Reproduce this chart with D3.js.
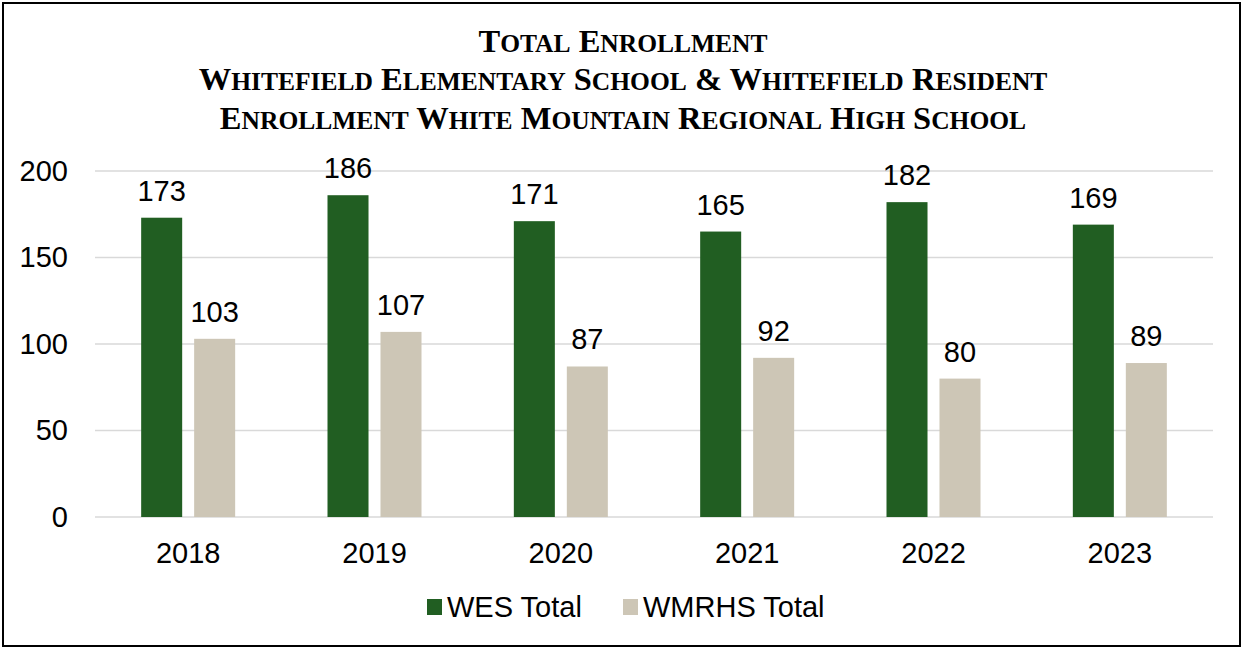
<!DOCTYPE html>
<html lang="en">
<head>
<meta charset="UTF-8">
<title>Total Enrollment</title>
<script src="https://d3js.org/d3.v7.min.js"></script>
<style>
  body { margin: 0; background: #fff; }
  svg { display: block; }
</style>
</head>
<body>
<div id="chart"></div>
<script>
// chart values
const years = ["2018", "2019", "2020", "2021", "2022", "2023"];
const wesTotal = [173, 186, 171, 165, 182, 169];
const wmrhsTotal = [103, 107, 87, 92, 80, 89];
const seriesNames = ["WES Total", "WMRHS Total"];
const yTicks = [0, 50, 100, 150, 200];
const titleLines = [
  "Total Enrollment",
  "Whitefield Elementary School & Whitefield Resident",
  "Enrollment White Mountain Regional High School"
];

const width = 1244, height = 650;
const colors = ["#215e22", "#cdc6b6"];
const sans = "'Liberation Sans', Arial, sans-serif";
const fontSize = 29;

const svg = d3.select("#chart").append("svg")
  .attr("width", width)
  .attr("height", height);

// outer frame
svg.append("rect")
  .attr("x", 3).attr("y", 3)
  .attr("width", 1237).attr("height", 643)
  .attr("fill", "#fff")
  .attr("stroke", "#000")
  .attr("stroke-width", 2);

// title, small caps done by hand: first letter big, rest smaller
const title = svg.append("g")
  .selectAll("text")
  .data(titleLines)
  .join("text")
  .attr("x", 623)
  .attr("y", (d, i) => 52 + i * 38.3)
  .attr("text-anchor", "middle")
  .attr("font-family", "'Liberation Serif', 'DejaVu Serif', serif")
  .attr("font-weight", "bold")
  .attr("fill", "#000");

title.each(function (line) {
  const t = d3.select(this);
  line.split(" ").forEach((word, wi) => {
    t.append("tspan").attr("font-size", 32.5).text((wi > 0 ? " " : "") + word[0]);
    if (word.length > 1) {
      t.append("tspan").attr("font-size", 25.5).text(word.slice(1).toUpperCase());
    }
  });
});

const margin = { left: 95, right: 31, top: 171, bottom: 133 };
const x0 = d3.scaleBand().domain(years).range([margin.left, width - margin.right]);
const outer = (x0.bandwidth() - 94) / 2;
const x1 = d3.scaleBand().domain([0, 1])
  .range([outer, x0.bandwidth() - outer])
  .paddingInner(0.226);
const y = d3.scaleLinear().domain([0, 200]).range([height - margin.bottom, margin.top]);

// gridlines
svg.append("g")
  .selectAll("line")
  .data(yTicks)
  .join("line")
  .attr("x1", margin.left)
  .attr("x2", width - margin.right)
  .attr("y1", d => y(d))
  .attr("y2", d => y(d))
  .attr("stroke", "#d9d9d9")
  .attr("stroke-width", 1.5);

// y axis labels
const yAxis = d3.axisLeft(y).tickValues(yTicks).tickSize(0).tickPadding(27);
svg.append("g")
  .attr("transform", `translate(${margin.left},0)`)
  .call(yAxis)
  .call(g => g.select(".domain").remove())
  .call(g => g.selectAll("text")
    .attr("font-family", sans)
    .attr("font-size", fontSize)
    .attr("fill", "#000"));

// x axis labels
const xAxis = d3.axisBottom(x0).tickSize(0).tickPadding(25);
svg.append("g")
  .attr("transform", `translate(0,${y(0)})`)
  .call(xAxis)
  .call(g => g.select(".domain").remove())
  .call(g => g.selectAll("text")
    .attr("font-family", sans)
    .attr("font-size", fontSize)
    .attr("fill", "#000"));

// bars
const series = [wesTotal, wmrhsTotal];
const groups = svg.append("g")
  .selectAll("g")
  .data(years)
  .join("g")
  .attr("transform", d => `translate(${x0(d)},0)`);

groups.selectAll("rect")
  .data((d, i) => series.map((s, k) => ({ k, v: s[i] })))
  .join("rect")
  .attr("x", d => x1(d.k))
  .attr("width", x1.bandwidth())
  .attr("y", d => y(d.v))
  .attr("height", d => y(0) - y(d.v))
  .attr("fill", d => colors[d.k]);

groups.selectAll("text")
  .data((d, i) => series.map((s, k) => ({ k, v: s[i] })))
  .join("text")
  .attr("x", d => x1(d.k) + x1.bandwidth() / 2)
  .attr("y", d => y(d.v) - 17)
  .attr("text-anchor", "middle")
  .attr("font-family", sans)
  .attr("font-size", fontSize)
  .attr("fill", "#000")
  .text(d => d.v);

// legend
const legendX = [427, 623];
const legend = svg.append("g")
  .selectAll("g")
  .data(seriesNames)
  .join("g")
  .attr("transform", (d, i) => `translate(${legendX[i]},607)`);

legend.append("rect")
  .attr("x", 0).attr("y", -8)
  .attr("width", 15).attr("height", 16)
  .attr("fill", (d, i) => colors[i]);

legend.append("text")
  .attr("x", 20)
  .attr("y", 10)
  .attr("font-family", sans)
  .attr("font-size", fontSize)
  .attr("fill", "#000")
  .text(d => d);
</script>
</body>
</html>
